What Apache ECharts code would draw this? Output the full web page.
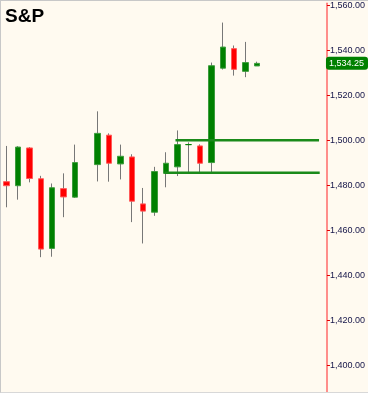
<!DOCTYPE html>
<html><head><meta charset="utf-8">
<script src="https://cdn.jsdelivr.net/npm/echarts@6/dist/echarts.min.js"></script>
<style>
html,body{margin:0;padding:0;background:#fffaf0;}
#c{width:368px;height:393px;box-sizing:border-box;border-left:1px solid #c8c8c8;border-top:1px solid #c8c8c8;border-bottom:1px solid #d8d8d8;background:#fffaf0;}
</style></head>
<body><div id="c"></div>
<script>
// Categories (trading-day slots; slot 8 is an empty day, last 6 are future space)
const categories = ['1','2','3','4','5','6','7','8','9','10','11','12','13','14','15','16','17','18','19','20','21','22','23','24','25','26','27','28','29'];
// OHLC values per slot
const opens  = [1481.6,1479.8,1496.6,1482.9,1451.9,1478.5,1474.7,'-',1489.2,1502.3,1489.5,1492.6,1471.7,1468.0,1485.3,1488.2,1498.1,1497.5,1490.1,1532.1,1540.8,1530.7,1533.1];
const closes = [1479.8,1497.0,1483.0,1451.6,1478.9,1474.8,1490.1,'-',1503.1,1489.8,1492.9,1472.9,1468.5,1486.1,1489.8,1498.1,1498.1,1489.8,1533.2,1541.5,1531.6,1534.6,1534.25];
const lows   = [1470.2,1473.6,1481.3,1448.0,1448.2,1465.8,1474.4,'-',1481.7,1481.6,1482.6,1463.6,1454.1,1466.4,1479.1,1484.1,1485.6,1485.6,1485.6,1531.5,1528.8,1528.1,1533.1];
const highs  = [1497.5,1497.4,1497.0,1484.2,1480.8,1485.3,1498.1,'-',1512.9,1503.1,1498.1,1493.8,1478.8,1488.2,1494.7,1504.4,1499.1,1498.2,1534.6,1552.4,1542.2,1543.8,1535.0];
const lastPrice = 1534.25;
// horizontal levels: [startSlot, endSlot, value]
const upperLevel = [14.84, 27.46, 1500.0];
const lowerLevel = [13.87, 27.52, 1485.6];
// y tick labels
const tickValues = [1400,1420,1440,1460,1480,1500,1520,1540,1560];

const fullData = opens.map((o,i)=> o==='-' ? ['-','-','-','-'] : [o, closes[i], lows[i], highs[i]]);
const bodyData = opens.map((o,i)=> o==='-' ? ['-','-','-','-'] : [o, closes[i], Math.min(o,closes[i]), Math.max(o,closes[i])]);

const fmt = v => Number(v).toLocaleString('en-US',{minimumFractionDigits:2,maximumFractionDigits:2});
const chart = echarts.init(document.getElementById('c'));
chart.setOption({
  backgroundColor:'#fffaf0',
  animation:false,
  title:{text:'S&P',left:4,top:6,padding:0,textStyle:{fontFamily:'Liberation Sans, Arial',fontWeight:'bold',fontSize:19,color:'#000'}},
  grid:{left:0,right:36.1,top:0,bottom:0,containLabel:false},
  xAxis:[
    {type:'category',data:categories,boundaryGap:true,show:false},
    {type:'value',min:-0.5,max:28.5,show:false}
  ],
  yAxis:{
    type:'value',position:'right',offset:-3.9,min:1388,max:1561,
    splitLine:{show:false},
    axisLine:{show:true,onZero:false,lineStyle:{color:'#ff6a6a',width:1.5}},
    axisTick:{show:true,length:3,lineStyle:{color:'#e00000'},customValues:tickValues},
    axisLabel:{margin:3,fontSize:9,fontFamily:'Liberation Sans, Arial',color:'#141448',customValues:tickValues,formatter:fmt},
    axisPointer:{show:true,type:'line',value:lastPrice,status:'show',triggerTooltip:false,
      lineStyle:{opacity:0},
      label:{show:true,backgroundColor:'#008000',color:'#fff',fontSize:9,fontFamily:'Liberation Sans, Arial',padding:[2,4,2,3],margin:5,formatter:p=>fmt(p.value)}}
  },
  series:[
    {type:'candlestick',name:'wick',data:fullData,barWidth:0.01,
      itemStyle:{color:'#777',color0:'#777',borderColor:'#777',borderColor0:'#777',borderColorDoji:'#777',borderWidth:1}},
    {type:'candlestick',name:'body',data:bodyData,barWidth:6,
      itemStyle:{color:'#008000',color0:'#ff0000',borderColor:'#3c9c3c',borderColor0:'#ff5a5a',borderColorDoji:'#008000',borderWidth:1}},
    {type:'line',xAxisIndex:1,data:[[upperLevel[0],upperLevel[2]],[upperLevel[1],upperLevel[2]]],symbol:'none',lineStyle:{color:'#1a8a1a',width:2.5}},
    {type:'line',xAxisIndex:1,data:[[lowerLevel[0],lowerLevel[2]],[lowerLevel[1],lowerLevel[2]]],symbol:'none',lineStyle:{color:'#1a8a1a',width:2.5}}
  ]
});
</script></body></html>
